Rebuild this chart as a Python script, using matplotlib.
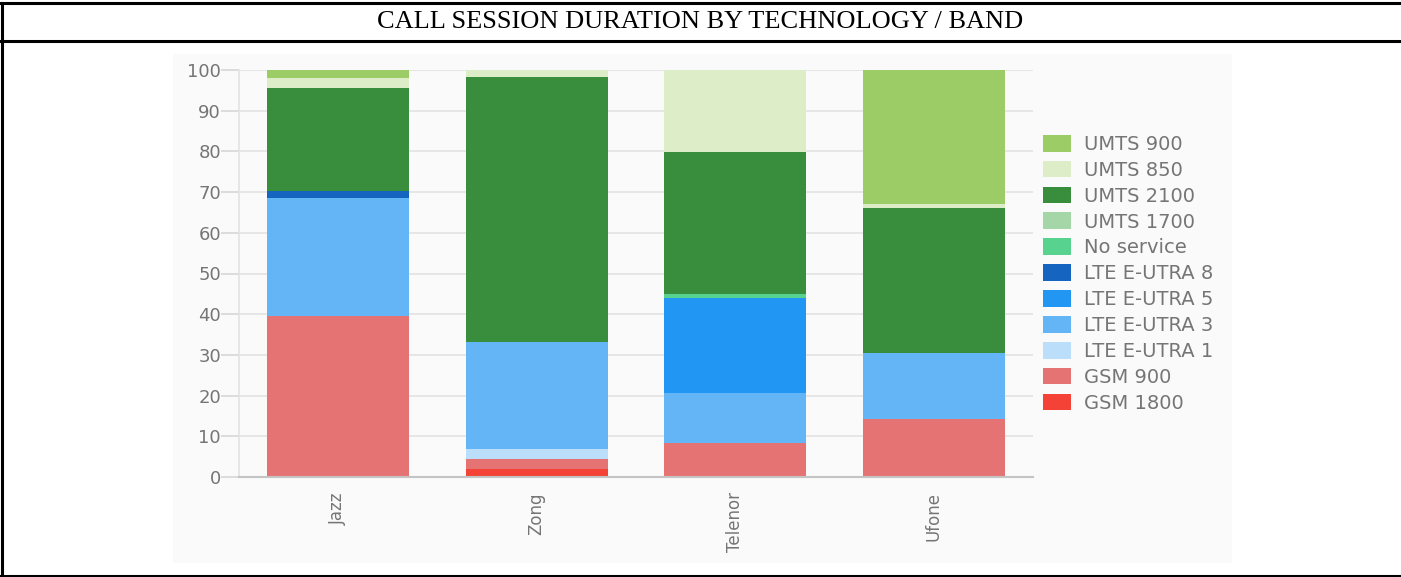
import matplotlib
matplotlib.use("Agg")
import matplotlib.pyplot as plt
from matplotlib.lines import Line2D
from matplotlib.patches import Rectangle
import numpy as np

# operators on the x axis
operators = ["Jazz", "Zong", "Telenor", "Ufone"]

# share of call session duration (%) per band, bottom of the stack first
gsm_1800 = [0.0, 1.9, 0.0, 0.0]
gsm_900 = [39.6, 2.5, 8.3, 14.2]
lte_1 = [0.0, 2.4, 0.0, 0.0]
lte_3 = [28.9, 26.4, 12.4, 16.3]
lte_5 = [0.0, 0.0, 23.4, 0.0]
lte_8 = [1.8, 0.0, 0.0, 0.0]
no_service = [0.0, 0.0, 0.9, 0.0]
umts_1700 = [0.0, 0.0, 0.0, 0.0]
umts_2100 = [25.4, 65.2, 34.9, 35.7]
umts_850 = [2.3, 1.6, 20.1, 0.8]
umts_900 = [2.0, 0.0, 0.0, 33.0]

series = [
    ("GSM 1800", gsm_1800, "#f44336"),
    ("GSM 900", gsm_900, "#e57373"),
    ("LTE E-UTRA 1", lte_1, "#bbdefb"),
    ("LTE E-UTRA 3", lte_3, "#64b5f6"),
    ("LTE E-UTRA 5", lte_5, "#2196f3"),
    ("LTE E-UTRA 8", lte_8, "#1565c0"),
    ("No service", no_service, "#57d28f"),
    ("UMTS 1700", umts_1700, "#a5d6a7"),
    ("UMTS 2100", umts_2100, "#388e3c"),
    ("UMTS 850", umts_850, "#dcedc8"),
    ("UMTS 900", umts_900, "#9ccc65"),
]

grey = "#757575"
W, H = 1401, 577

fig = plt.figure(figsize=(W / 100, H / 100), dpi=100)
fig.patch.set_facecolor("white")

# light panel behind the chart
fig.patches.append(Rectangle((173 / W, 1 - 563 / H), (1232 - 173) / W, (563 - 54) / H,
                             transform=fig.transFigure, facecolor="#fafafa",
                             edgecolor="none", zorder=-1))

# frame lines and title row
lw = 2.2
fig.lines.append(Line2D([0, 1], [1 - 3 / H, 1 - 3 / H], transform=fig.transFigure, color="black", lw=lw))
fig.lines.append(Line2D([0, 1], [1 - 41 / H, 1 - 41 / H], transform=fig.transFigure, color="black", lw=lw))
fig.lines.append(Line2D([0, 1], [1 - 575.5 / H, 1 - 575.5 / H], transform=fig.transFigure, color="black", lw=lw))
fig.lines.append(Line2D([1.5 / W, 1.5 / W], [1 - 3 / H, 1 - 575.5 / H], transform=fig.transFigure, color="black", lw=lw))

fig.text(700 / W, 1 - 22 / H, "CALL SESSION DURATION BY TECHNOLOGY / BAND",
         ha="center", va="center", fontsize=19, family="Liberation Serif", color="black")

ax = fig.add_axes([239 / W, 1 - 477 / H, (1033 - 239) / W, (477 - 70) / H])
ax.set_facecolor("none")

x = np.arange(len(operators))
bottom = np.zeros(len(operators))
handles = []
for label, vals, color in series:
    bars = ax.bar(x, vals, 0.715, bottom=bottom, color=color, label=label, zorder=3)
    bottom += np.array(vals)
    handles.append(bars)

ax.set_xlim(-0.5, len(operators) - 0.5)
ax.set_ylim(0, 100)
ax.set_yticks(np.arange(0, 101, 10))
ax.grid(axis="y", color="#e3e3e3", lw=1.2, zorder=0)
ax.set_xticks(x)
ax.set_xticklabels(operators, rotation=90, va="top")
ax.tick_params(axis="x", length=0, pad=11, labelsize=12, labelcolor=grey)
ax.tick_params(axis="y", length=13, width=1.2, color="#d6d6d6", pad=0, labelsize=13, labelcolor=grey)

for side in ["top", "right"]:
    ax.spines[side].set_visible(False)
ax.spines["left"].set_color("#e3e3e3")
ax.spines["left"].set_linewidth(1.2)
ax.spines["bottom"].set_color("#c4c4c4")
ax.spines["bottom"].set_linewidth(1.5)
ax.spines["bottom"].set_zorder(4)

leg = fig.legend(handles[::-1], [s[0] for s in series][::-1],
                 loc="center left", bbox_to_anchor=(1043 / W, 1 - 273.75 / H),
                 frameon=False, fontsize=14, handlelength=1.45, handleheight=0.95,
                 handletextpad=0.65, labelspacing=0.35, borderpad=0, borderaxespad=0)
for t in leg.get_texts():
    t.set_color(grey)

fig.savefig("out.png", dpi=100)
